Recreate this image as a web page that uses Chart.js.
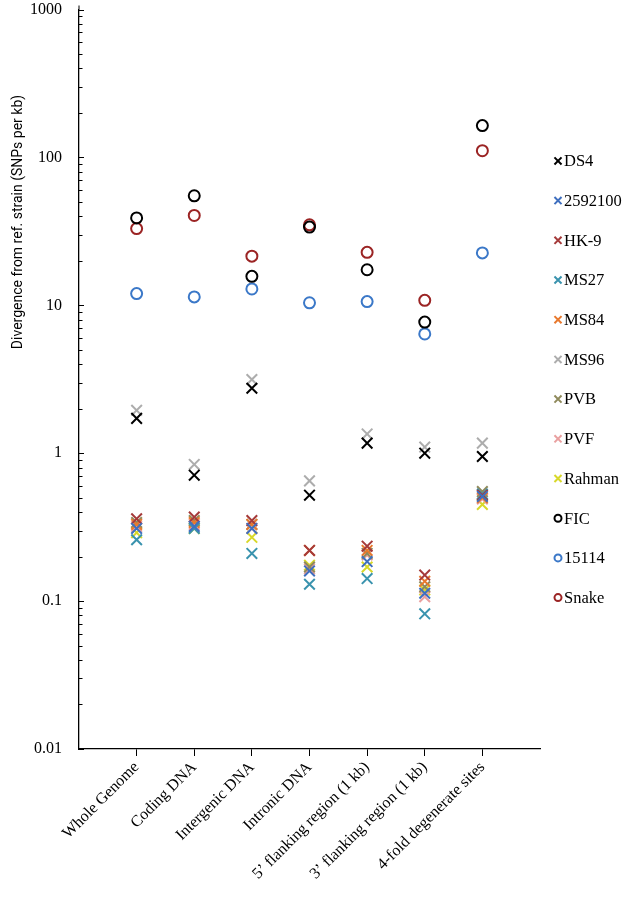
<!DOCTYPE html>
<html><head><meta charset="utf-8">
<script src="https://cdn.jsdelivr.net/npm/chart.js@4/dist/chart.umd.min.js"></script>
<style>html,body{margin:0;padding:0;background:#fff;}#wrap{width:633px;height:906px;}</style>
</head><body><div id="wrap"><canvas id="c" width="633" height="906"></canvas></div>
<script>
const categories = ['Whole Genome','Coding DNA','Intergenic DNA','Intronic DNA','5\u2019 flanking region (1 kb)','3\u2019 flanking region (1 kb)','4-fold degenerate sites'];
const seriesNames = ['DS4','2592100','HK-9','MS27','MS84','MS96','PVB','PVF','Rahman','FIC','15114','Snake'];
const DS4     = [1.72, 0.71, 2.75, 0.52, 1.17, 1.00, 0.95];
const s2592100= [0.31, 0.32, 0.31, 0.16, 0.185, 0.113, 0.51];
const HK9     = [0.36, 0.37, 0.35, 0.22, 0.235, 0.150, 0.52];
const MS27    = [0.26, 0.31, 0.21, 0.13, 0.142, 0.082, 0.53];
const MS84    = [0.33, 0.34, 0.33, 0.22, 0.220, 0.136, 0.50];
const MS96    = [1.95, 0.84, 3.15, 0.65, 1.35, 1.10, 1.17];
const PVB     = [0.34, 0.35, 0.33, 0.17, 0.210, 0.125, 0.55];
const PVF     = [0.32, 0.33, 0.31, 0.165, 0.205, 0.107, 0.49];
const Rahman  = [0.29, 0.31, 0.27, 0.175, 0.170, 0.119, 0.45];
const FIC     = [39, 55, 15.7, 33.8, 17.4, 7.7, 164];
const s15114  = [12.0, 11.4, 12.9, 10.4, 10.6, 6.4, 22.6];
const Snake   = [33, 40.5, 21.5, 35, 22.8, 10.8, 111];
const yMajorValues = [0.01, 0.1, 1, 10, 100, 1000];
const yTickLabels  = ['0.01', '0.1', '1', '10', '100', '1000'];

const seriesValues = [DS4, s2592100, HK9, MS27, MS84, MS96, PVB, PVF, Rahman, FIC, s15114, Snake];
const colors = ['#000000','#3F6FBF','#A53A3A','#3A93AE','#E8792E','#ADADAD','#8F8A5C','#E9A0A0','#D8D82A','#000000','#3B78C8','#9B2424'];
const isCircle = [false,false,false,false,false,false,false,false,false,true,true,true];

const datasets = seriesNames.map((name, k) => ({
  label: name,
  data: seriesValues[k].map((v, i) => ({x: i + 1, y: v})),
  pointStyle: isCircle[k] ? 'circle' : 'crossRot',
  pointRadius: isCircle[k] ? 5.5 : 7.5,
  pointBorderWidth: 2,
  borderColor: colors[k],
  backgroundColor: isCircle[k] ? 'rgba(0,0,0,0)' : colors[k],
  showLine: false
}));

const inwardTicks = {
  id: 'inwardTicks',
  afterDraw(chart) {
    const y = chart.scales.y, ctx = chart.ctx, x0 = y.right;
    ctx.save();
    ctx.strokeStyle = '#000'; ctx.lineWidth = 1;
    ctx.beginPath();
    y.ticks.forEach(t => {
      const py = Math.round(y.getPixelForValue(t.value)) + 0.5;
      const major = yMajorValues.some(m => Math.abs(Math.log10(m) - Math.log10(t.value)) < 1e-6);
      ctx.moveTo(x0, py); ctx.lineTo(x0 + (major ? 5 : 3.5), py);
    });
    ctx.moveTo(x0, chart.chartArea.top); ctx.lineTo(x0, chart.chartArea.top - 4);
    ctx.stroke();
    // y title
    ctx.fillStyle = '#000';
    ctx.font = '14px "Liberation Sans Narrow", "Roboto", sans-serif';
    ctx.textAlign = 'center'; ctx.textBaseline = 'middle';
    ctx.translate(18, 222); ctx.rotate(-Math.PI / 2);
    ctx.fillText('Divergence from ref. strain (SNPs per kb)', 0, 0);
    ctx.restore();
    // legend
    const ca = chart.chartArea;
    const cy = (ca.top + ca.bottom) / 2;
    const step = 39.7;
    const n = chart.data.datasets.length;
    ctx.save();
    chart.data.datasets.forEach((ds, i) => {
      const py = cy + (i - (n - 1) / 2) * step;
      ctx.strokeStyle = ds.borderColor; ctx.fillStyle = 'rgba(0,0,0,0)';
      ctx.lineWidth = 2;
      Chart.helpers.drawPoint(ctx, {pointStyle: ds.pointStyle, rotation: 0, radius: ds.pointStyle === 'circle' ? 3.5 : 5, borderWidth: 2}, 558, py);
      ctx.fillStyle = '#000';
      ctx.font = '16.5px "Liberation Serif", serif';
      ctx.textAlign = 'left'; ctx.textBaseline = 'middle';
      ctx.fillText(ds.label, 564, py + 1);
    });
    ctx.restore();
  }
};

new Chart(document.getElementById('c'), {
  type: 'scatter',
  data: { datasets },
  options: {
    responsive: false, animation: false, devicePixelRatio: 1,
    layout: { padding: { top: 9, right: 93, left: 0, bottom: 0 } },
    plugins: { legend: { display: false }, tooltip: { enabled: false } },
    scales: {
      x: {
        type: 'linear', min: 0, max: 8,
        afterBuildTicks: s => { s.ticks = categories.map((c, i) => ({ value: i + 1 })); },
        afterFit: s => { s.height = 157; s.paddingLeft = 0; s.paddingRight = 0; },
        ticks: { autoSkip: false, minRotation: 45, maxRotation: 45, color: '#000', padding: 2,
          font: { family: '"Liberation Serif", serif', size: 16 },
          callback: v => categories[Math.round(v) - 1] || '' },
        grid: { drawOnChartArea: false, drawTicks: true, tickLength: 7, color: '#000', lineWidth: 1 },
        border: { display: true, color: '#000', width: 1.3 }
      },
      y: {
        type: 'logarithmic', min: 0.01, max: 1000,
        afterBuildTicks: s => {
          const t = [];
          for (let e = -2; e <= 2; e++) for (let m = 1; m <= 9; m++) t.push({ value: m * Math.pow(10, e) });
          t.push({ value: 1000 });
          s.ticks = t;
        },
        afterFit: s => { s.width = 79; s.paddingTop = 9; s.paddingBottom = 0; },
        ticks: { autoSkip: false, color: '#000', padding: 17,
          font: { family: '"Liberation Serif", serif', size: 16 },
          callback: v => {
            const idx = yMajorValues.findIndex(m => Math.abs(Math.log10(m) - Math.log10(v)) < 1e-6);
            return idx >= 0 ? yTickLabels[idx] : '';
          } },
        grid: { drawOnChartArea: false, drawTicks: false },
        border: { display: true, color: '#000', width: 1.3 }
      }
    }
  },
  plugins: [inwardTicks]
});
</script></body></html>
